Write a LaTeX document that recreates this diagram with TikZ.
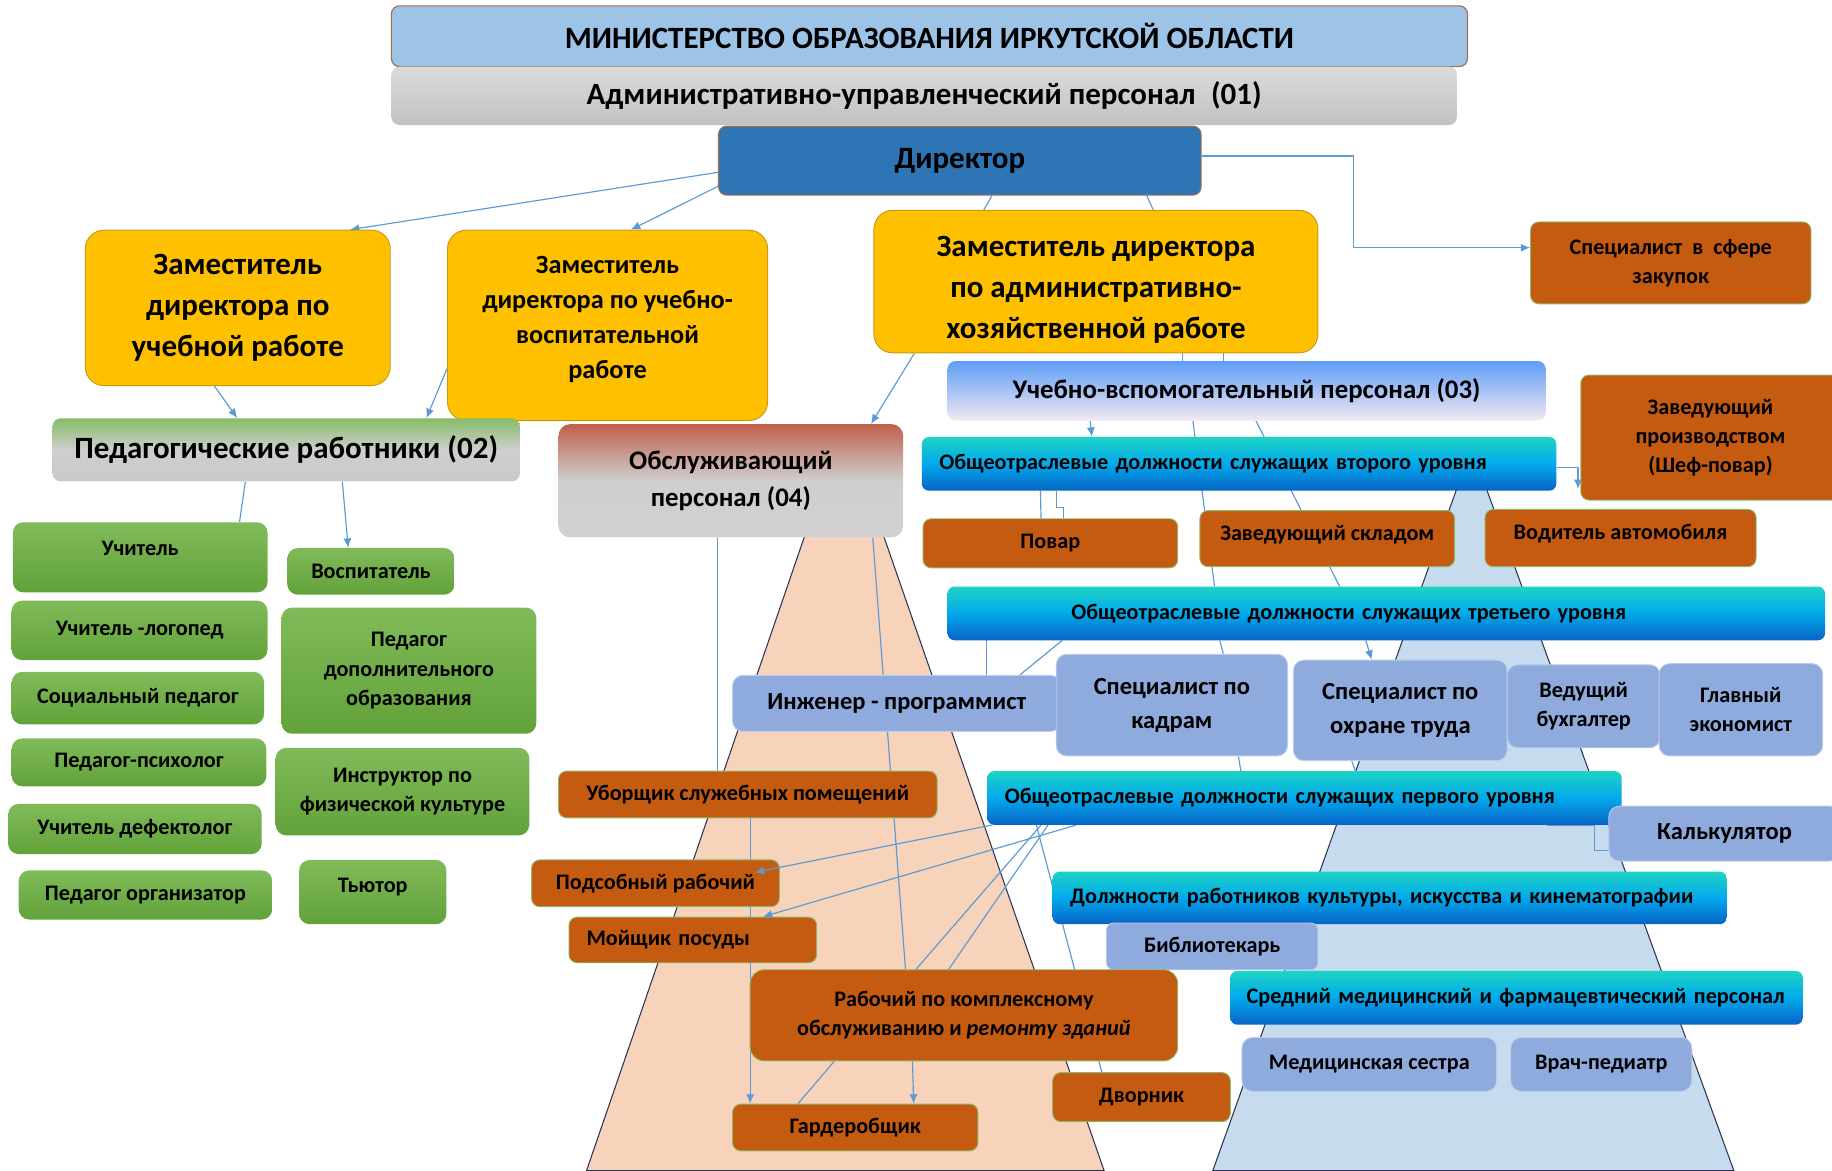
\documentclass[tikz,border=0pt]{standalone}
\usepackage{fontspec}
\setmainfont{Carlito}
\usetikzlibrary{arrows.meta}

\definecolor{minblue}{HTML}{9DC3E6}
\definecolor{dirblue}{HTML}{2E75B6}
\definecolor{rimbrown}{HTML}{A0704F}
\definecolor{zamyel}{HTML}{FFC000}
\definecolor{zamrim}{HTML}{C99A10}
\definecolor{grntop}{HTML}{80BB59}
\definecolor{grnbot}{HTML}{62A23A}
\definecolor{orng}{HTML}{C55A11}
\definecolor{orngrim}{HTML}{8DB86A}
\definecolor{bgray}{HTML}{8FAADC}
\definecolor{lvltop}{HTML}{1DD3C5}
\definecolor{lvlmid}{HTML}{03A9EC}
\definecolor{lvlbot}{HTML}{0863C6}
\definecolor{uvptop}{HTML}{5E9DF6}
\definecolor{uvpbot}{HTML}{F4E8F2}
\definecolor{pedtop}{HTML}{86BD66}
\definecolor{obstop}{HTML}{C0604A}
\definecolor{peach}{HTML}{F8D3BC}
\definecolor{paleblue}{HTML}{C7DBEF}
\definecolor{link}{HTML}{5B9BD5}
\definecolor{trapline}{HTML}{2B3450}

\newcommand\fbig{\fontsize{26.5}{35}\selectfont}
\newcommand\fgrp{\fontsize{23}{31}\selectfont}
\newcommand\fmid{\fontsize{21}{29}\selectfont}
\newcommand\fdep{\fontsize{22.5}{30}\selectfont}
\newcommand\fsml{\fontsize{19}{25}\selectfont}

\pgfdeclarelayer{trap}
\pgfdeclarelayer{links}
\pgfsetlayers{trap,links,main}

\tikzset{
  box/.style={rounded corners=7pt, inner sep=3pt, align=center, text=black, font=\bfseries\fsml},
  minbox/.style={box, fill=minblue, draw=rimbrown, line width=1pt, font=\bfseries\fbig},
  admbox/.style={box, top color=gray!28, bottom color=gray!48, font=\bfseries\fbig},
  dirbox/.style={box, fill=dirblue, draw=rimbrown, line width=1pt, font=\bfseries\fbig},
  zambox/.style={box, rounded corners=16pt, fill=zamyel, draw=zamrim, line width=0.8pt},
  grbox/.style={box, rounded corners=9pt, top color=grntop, bottom color=grnbot},
  orbox/.style={box, fill=orng, draw=orngrim, line width=0.8pt},
  bgbox/.style={box, rounded corners=9pt, fill=bgray, draw=bgray!60!white, line width=0.8pt},
  lvlbox/.style={box, rounded corners=6pt, top color=lvltop, bottom color=lvlbot, middle color=lvlmid, align=left},
  link/.style={draw=link, line width=1pt},
  trapfill/.style={draw=trapline, line width=0.9pt},
  >={Latex[length=8pt,width=7pt]}
}

\begin{document}
\begin{tikzpicture}[x=1pt, y=-1pt]

  \useasboundingbox (0,0) rectangle (1568,1002);

  % background wedges
  \begin{pgfonlayer}{trap}
    \draw[trapfill, fill=peach] (690,455) -- (755,455) -- (945,1002) -- (502,1002) -- cycle;
    \draw[trapfill, fill=paleblue] (1248,415) -- (1271,415) -- (1484,1002) -- (1038,1002) -- cycle;
  \end{pgfonlayer}

  % top rows
  \node[minbox, minimum width=921, minimum height=52] (min) at (795.5,31)
    {МИНИСТЕРСТВО ОБРАЗОВАНИЯ ИРКУТСКОЙ ОБЛАСТИ};
  \node[admbox, minimum width=912, minimum height=50] (adm) at (791,82)
    {Административно-управленческий персонал\enspace(01)};
  \node[dirbox, minimum width=413, minimum height=59] (dir) at (821.5,137.5) {Директор};

  % deputies
  \node[zambox, font=\bfseries\fbig, minimum width=261, minimum height=133] (zamuch) at (203.5,263.5)
    {Заместитель\\директора по\\учебной работе};
  \node[zambox, font=\bfseries\fdep, minimum width=274, minimum height=163, text depth=13pt] (zamvosp) at (520,278.5)
    {Заместитель\\директора по учебно-\\воспитательной\\работе};
  \node[zambox, font=\bfseries\fbig, minimum width=380, minimum height=122] (zamahr) at (938,241)
    {\rule{0pt}{31pt}Заместитель директора\\по административно-\\хозяйственной работе};
  \node[orbox, minimum width=240, minimum height=70] (zakup) at (1430,225)
    {Специалист\ \ в\ \ сфере\\закупок};

  % groups
  \node[box, top color=uvptop, bottom color=uvpbot, font=\bfseries\fgrp,
        minimum width=512, minimum height=51] (uvp) at (1067,334.5)
    {Учебно-вспомогательный персонал (03)};
  \node[orbox, minimum width=222, minimum height=107] (shef) at (1464,374.5)
    {Заведующий\\производством\\(Шеф-повар)};
  \node[box, top color=pedtop, bottom color=gray!42, middle color=gray!38, font=\bfseries\fbig,
        minimum width=400, minimum height=54] (ped) at (245,385)
    {Педагогические работники (02)};
  \node[box, rounded corners=10pt, top color=obstop, bottom color=gray!36, middle color=gray!38,
        font=\bfseries\fgrp, minimum width=295, minimum height=97] (obs) at (625.5,411.5)
    {Обслуживающий\\персонал (04)};
  \node[lvlbox, minimum width=543, minimum height=46, text width=513] (lvltwo) at (1060.5,397)
    {Общеотраслевые должности служащих второго уровня};

  % pedagogues
  \node[grbox, minimum width=218, minimum height=60, text depth=16pt] (uchit) at (120,477) {Учитель};
  \node[grbox, minimum width=143, minimum height=40] (vosp) at (317.5,489) {Воспитатель};
  \node[grbox, minimum width=219, minimum height=51] (logo) at (119.5,539.5) {Учитель -логопед};
  \node[grbox, minimum width=218, minimum height=108] (pdo) at (350,574)
    {Педагог\\дополнительного\\образования};
  \node[grbox, minimum width=216, minimum height=45] (socp) at (118,597.5) {Социальный педагог};
  \node[grbox, minimum width=218, minimum height=41] (psih) at (119,652.5) {Педагог-психолог};
  \node[grbox, minimum width=217, minimum height=75] (fizk) at (344.5,677.5)
    {Инструктор по\\физической культуре};
  \node[grbox, minimum width=217, minimum height=43] (defek) at (115.5,709.5) {Учитель дефектолог};
  \node[grbox, minimum width=217, minimum height=42] (organ) at (124.5,766) {Педагог организатор};
  \node[grbox, minimum width=126, minimum height=55, text depth=11pt] (tutor) at (319,763.5) {Тьютор};

  % second level
  \node[orbox, minimum width=218, minimum height=42] (povar) at (899,465) {Повар};
  \node[orbox, minimum width=218, minimum height=48, text depth=10pt] (sklad) at (1136,461) {Заведующий складом};
  \node[orbox, minimum width=232, minimum height=49, text depth=10pt] (voditel) at (1387,460.5) {Водитель автомобиля};

  % third level
  \node[lvlbox, minimum width=751, minimum height=46, text width=721] (lvlthree) at (1186.5,525)
    {\hspace*{91pt}Общеотраслевые должности служащих третьего уровня};
  \node[bgbox, font=\bfseries\fmid, minimum width=281, minimum height=48] (inzh) at (767.5,602)
    {Инженер - программист};
  \node[bgbox, font=\bfseries\fmid, minimum width=198, minimum height=87] (kadry) at (1003,603.5)
    {Специалист по\\кадрам};
  \node[bgbox, font=\bfseries\fmid, minimum width=183, minimum height=86] (ohrana) at (1198.5,608)
    {Специалист по\\охране труда};
  \node[bgbox, minimum width=131, minimum height=71] (buhg) at (1355.5,604.5) {Ведущий\\бухгалтер};
  \node[bgbox, minimum width=140, minimum height=79] (ekon) at (1490,607.5) {Главный\\экономист};

  % service staff
  \node[orbox, minimum width=324, minimum height=40] (uborsh) at (640,680) {Уборщик служебных помещений};
  \node[lvlbox, minimum width=543, minimum height=46, text width=513] (lvlone) at (1116.5,683)
    {Общеотраслевые должности служащих первого уровня};
  \node[bgbox, font=\bfseries\fmid, minimum width=198, minimum height=47] (kalk) at (1476,713.5) {Калькулятор};
  \node[orbox, minimum width=212, minimum height=40] (podsob) at (561,756) {Подсобный рабочий};
  \node[lvlbox, minimum width=577, minimum height=45, text width=547] (kult) at (1189.5,768.5)
    {Должности работников культуры, искусства и кинематографии};
  \node[orbox, minimum width=212, minimum height=39, text width=182, align=left] (moysh) at (593,804.5)
    {Мойщик посуды};
  \node[bgbox, rounded corners=6pt, minimum width=181, minimum height=40] (bibl) at (1037.5,810) {Библиотекарь};
  \node[orbox, rounded corners=12pt, minimum width=366, minimum height=78] (rabkz) at (825,869)
    {Рабочий по комплексному\\обслуживанию и \textit{ремонту зданий}};
  \node[lvlbox, minimum width=490, minimum height=46, text width=462] (sredmed) at (1298,854)
    {Средний медицинский и фармацевтический персонал};
  \node[bgbox, minimum width=218, minimum height=46] (medsest) at (1172,911) {Медицинская сестра};
  \node[bgbox, minimum width=155, minimum height=46] (vrach) at (1370.5,911) {Врач-педиатр};
  \node[orbox, minimum width=152, minimum height=42] (dvornik) at (977,939) {Дворник};
  \node[orbox, minimum width=210, minimum height=40] (garder) at (732,965) {Гардеробщик};

  % connectors
  \begin{pgfonlayer}{links}
    \draw[link, ->] ([yshift=-10]dir.west) -- ([xshift=96]zamuch.north);
    \draw[link, ->] ([yshift=-22]dir.west) -- ([xshift=20]zamvosp.north);
    \draw[link] ([xshift=27.5]dir.south) -- ([xshift=-96]zamahr.north);
    \draw[link] ([xshift=160]dir.south) -- ([xshift=49]zamahr.north);
    \draw[link, ->] ([yshift=4]dir.east) -- ++(130,0) |- ([yshift=13]zakup.west);

    \draw[link, ->] ([xshift=-20]zamuch.south) -- ([xshift=-42]ped.north);
    \draw[link, ->] ([yshift=-37]zamvosp.west) -- ([xshift=120]ped.north);
    \draw[link, ->] ([xshift=35]zamahr.south west) -- ([xshift=120]obs.north);
    \draw[link] ([xshift=74]zamahr.south) -- ([xshift=-55]uvp.north);
    \draw[link] ([xshift=109]zamahr.south) -- ([xshift=-20]uvp.north);

    \draw[link] ([xshift=-35]ped.south) -- ([xshift=85]uchit.north);
    \draw[link, ->] ([xshift=48]ped.south) -- ([xshift=-19.5]vosp.north);

    \draw[link, ->] ([xshift=-134]uvp.south) -- ([xshift=-126]lvltwo.north);
    \draw[link] ([xshift=-46]uvp.south) -- ([xshift=-147]lvlthree.north);
    \draw[link] ([xshift=8]uvp.south) -- ([xshift=-40]lvlthree.north);
    \draw[link, ->] ([yshift=-3]lvltwo.east) -| ([xshift=-2,yshift=-44]shef.west);
    \draw[link] ([xshift=-170]lvltwo.south) -- ([xshift=-8]povar.north);

    \draw[link] ([xshift=-290.5,yshift=11]lvlthree.south) -| ([xshift=76.5]inzh.north);
    \draw[link] ([xshift=-277.5]lvlthree.south) -- ([xshift=105.5]inzh.north);
    \draw[link] ([xshift=-142.5]lvlthree.south) -- ([xshift=44]kadry.north);
    \draw[link, ->] ([xshift=-17.5]lvlthree.south) -- ([xshift=-24.5]ohrana.north);
    \draw[link] ([xshift=57]kadry.south) -- ([xshift=-54.5]lvlone.north);
    \draw[link] ([xshift=-41.5]ohrana.south) -- ([xshift=43.5]lvlone.north);

    \draw[link] ([xshift=-11.5]obs.south) -- ([xshift=-26]uborsh.north);
    \draw[link] ([xshift=121.5]obs.south) -- ([xshift=-50]rabkz.north);
    \draw[link, ->] ([xshift=2]uborsh.south) -- ([xshift=-90]garder.north);
    \draw[link] ([xshift=-225.5]lvlone.south) -- ([xshift=-41]rabkz.north);
    \draw[link] ([xshift=-219.5]lvlone.south) -- ([xshift=-13]rabkz.north);
    \draw[link] ([xshift=-229.5]lvlone.south) -- ([xshift=-34]dvornik.north);
    \draw[link] ([xshift=-111]rabkz.south) -- ([xshift=-49]garder.north);
    \draw[link, ->] ([xshift=-44]rabkz.south) -- ([xshift=50]garder.north);
    \draw[link] ([xshift=207.5]lvlone.south) -| ([xshift=-12,yshift=-14.5]kalk.west) -- ([yshift=-14.5]kalk.west);
  \end{pgfonlayer}

  \draw[link] ([xshift=-156]lvltwo.south) -- ++(0,14) -| ([xshift=11]povar.north);
  \draw[link, ->] ([xshift=4]lvlone.south west) -- ([xshift=85,yshift=-11]podsob.north);
  \draw[link, ->] ([xshift=-195.5]lvlone.south) -- ([xshift=60]moysh.north);

\end{tikzpicture}
\end{document}
